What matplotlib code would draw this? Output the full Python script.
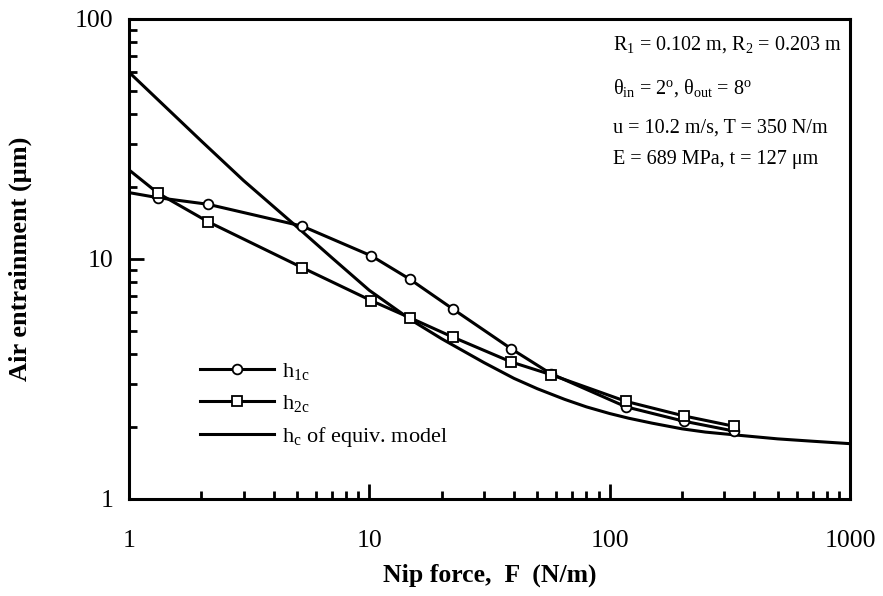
import matplotlib
matplotlib.use("Agg")
from matplotlib import pyplot as plt
from matplotlib.lines import Line2D

plt.rcParams['font.family'] = ['Liberation Serif', 'DejaVu Serif']
plt.rcParams['mathtext.fontset'] = 'custom'
plt.rcParams['mathtext.rm'] = 'Liberation Serif'
plt.rcParams['mathtext.it'] = 'Liberation Serif:italic'
plt.rcParams['mathtext.bf'] = 'Liberation Serif:bold'

# measured points (first point sits on the axis, no marker there)
force = [1, 1.32, 2.13, 5.26, 10.2, 14.7, 22.2, 39.0, 56.8, 117, 203, 328]
h1c = [18.9, 18.0, 16.9, 13.7, 10.3, 8.25, 6.2, 4.22, 3.33, 2.42, 2.11, 1.92]
h2c = [23.5, 18.8, 14.3, 9.2, 6.7, 5.7, 4.73, 3.72, 3.3, 2.55, 2.22, 2.01]

# equivalent model curve
force_model = [1, 2, 3, 5, 7, 10, 15, 20, 30, 40, 50, 65, 80, 100, 120, 150,
               200, 250, 330, 500, 700, 1000]
hc_model = [60, 31, 21.2, 13.6, 10.1, 7.4, 5.55, 4.65, 3.7, 3.18, 2.88, 2.6,
            2.42, 2.27, 2.17, 2.07, 1.96, 1.90, 1.85, 1.78, 1.74, 1.70]

x_ticks = [1, 10, 100, 1000]
y_ticks = [1, 10, 100]

fig = plt.figure(figsize=(8.83, 5.96), dpi=100)
ax = fig.add_axes([0.1461, 0.1628, 0.8165, 0.8054])

lw = 2.2
ax.plot(force, h1c, color='black', lw=lw, marker='o', ms=7, mfc='white',
        mec='black', mew=1.3, markevery=slice(1, None), zorder=3)
ax.plot(force, h2c, color='black', lw=lw, marker='s', ms=7.5, mfc='white',
        mec='black', mew=1.3, markevery=slice(1, None), zorder=3)
ax.plot(force_model, hc_model, color='black', lw=lw, zorder=2)

ax.set_xscale('log')
ax.set_yscale('log')
ax.set_xlim(1, 1000)
ax.set_ylim(1, 100)
ax.set_xticks(x_ticks, [str(v) for v in x_ticks])
ax.set_yticks(y_ticks, [str(v) for v in y_ticks])
ax.tick_params(which='major', direction='in', length=11, width=2,
               labelsize=18.5, top=False, right=False)
ax.tick_params(which='minor', direction='in', length=6, width=2,
               top=False, right=False)
ax.tick_params(axis='x', which='major', pad=22)
ax.tick_params(axis='y', which='major', pad=11)
for sp in ax.spines.values():
    sp.set_linewidth(2.2)

ax.set_xlabel('Nip force,  F  (N/m)', fontsize=18.5, fontweight='bold')
ax.set_ylabel('Air entrainment (\u03bcm)', fontsize=19, fontweight='bold')
ax.xaxis.set_label_coords(0.5, -0.135)
ax.yaxis.set_label_coords(-0.135, 0.5)

handles = [
    Line2D([], [], color='black', lw=lw, marker='o', ms=7, mfc='white',
           mec='black', mew=1.3),
    Line2D([], [], color='black', lw=lw, marker='s', ms=7.5, mfc='white',
           mec='black', mew=1.3),
    Line2D([], [], color='black', lw=lw),
]
labels = [r'h$_\mathrm{1c}$', r'h$_\mathrm{2c}$', r'h$_\mathrm{c}$ of equiv. model']
ax.legend(handles, labels, loc='lower left', bbox_to_anchor=(0.071, 0.062),
          frameon=False, fontsize=16, handlelength=3.3, handletextpad=0.4,
          labelspacing=0.5)

theta = '\u03b8'
notes = [
    (0.672, 0.946, r'R$_1$ = 0.102 m, R$_2$ = 0.203 m'),
    (0.672, 0.856, theta + r'$_\mathrm{in}$ = 2$^\mathrm{o}$, ' + theta
     + r'$_\mathrm{out}$ = 8$^\mathrm{o}$'),
    (0.672, 0.772, 'u = 10.2 m/s, T = 350 N/m'),
    (0.672, 0.708, 'E = 689 MPa, t = 127 \u03bcm'),
]
for x, y, s in notes:
    ax.text(x, y, s, transform=ax.transAxes, fontsize=14.5,
            va='center', ha='left')

fig.savefig('out.png', dpi=100)
